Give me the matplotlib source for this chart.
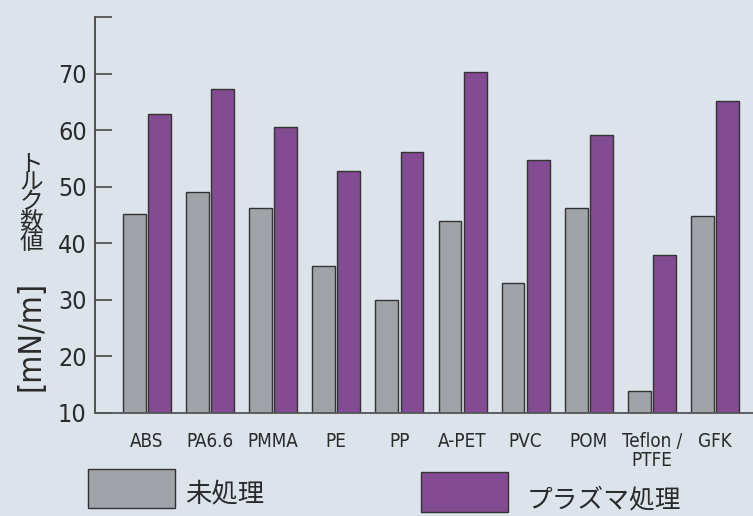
import matplotlib
matplotlib.use("Agg")
import matplotlib.pyplot as plt
import numpy as np
from matplotlib.patches import Rectangle
from matplotlib import font_manager

# データ
materials = ["ABS", "PA6.6", "PMMA", "PE", "PP", "A-PET", "PVC", "POM", "Teflon /\nPTFE", "GFK"]
untreated = [45.1, 49.0, 46.3, 35.9, 30.0, 44.0, 33.0, 46.2, 13.9, 44.9]
plasma = [62.8, 67.3, 60.5, 52.7, 56.1, 70.3, 54.7, 59.1, 38.0, 65.1]
yticks = [10, 20, 30, 40, 50, 60, 70, 80]
ytick_labels = ["10", "20", "30", "40", "50", "60", "70", ""]

bg = "#dce3ea"
gray = "#a0a3a7"
purple = "#834b91"
txt = "#2a2a2a"
jp = ["Noto Sans CJK JP", "DejaVu Sans"]

# 細めのフォント（DejaVu Sans Condensed があれば使う）
cond = [f.fname for f in font_manager.fontManager.ttflist
        if ("Condensed" in f.fname or f.stretch == "condensed")
        and "Bold" not in f.fname and "Oblique" not in f.fname and "Serif" not in f.fname]


def lat(size):
    if cond:
        return dict(fontproperties=font_manager.FontProperties(fname=cond[0], size=size))
    return dict(family="DejaVu Sans", fontsize=size)


fig = plt.figure(figsize=(7.53, 5.16), dpi=100)
fig.patch.set_facecolor(bg)
ax = fig.add_axes([95 / 753, 103 / 516, 1 - 95 / 753, 396 / 516])
ax.set_facecolor(bg)

x = np.arange(len(materials))
w = 0.36
ax.bar(x - 0.2, untreated, w, bottom=0, color=gray, edgecolor="#333333", linewidth=1.0)
ax.bar(x + 0.2, plasma, w, bottom=0, color=purple, edgecolor="#333333", linewidth=1.0)

ax.set_ylim(10, 80)
ax.set_xlim(-0.82, 9.6)
ax.set_yticks(yticks)
ax.set_yticklabels(ytick_labels, color=txt, **lat(18))
ax.tick_params(axis="y", direction="in", length=12, width=1.3, color="#555555", pad=6)
ax.set_xticks(x)
ax.set_xticklabels(materials, color=txt, linespacing=1.0, **lat(13.5))
ax.tick_params(axis="x", length=0, pad=14)

for s in ["top", "right"]:
    ax.spines[s].set_visible(False)
ax.spines["left"].set_color("#444444")
ax.spines["left"].set_linewidth(1.3)
ax.spines["bottom"].set_color("#555555")
ax.spines["bottom"].set_linewidth(1.3)

# 縦軸ラベル
fig.text(31 / 753, 1 - 203 / 516, "\n".join("トルク数値"), family=jp, fontsize=17,
         ha="center", va="center", linespacing=0.82, color=txt)
fig.text(31 / 753, 1 - 336 / 516, "[mN/m]", color=txt, rotation=90,
         ha="center", va="center", **lat(23))

# 凡例
fig.add_artist(Rectangle((88 / 753, 1 - 508 / 516), 87 / 753, 39 / 516, transform=fig.transFigure,
                         facecolor=gray, edgecolor="#333333", linewidth=1.0))
fig.text(185 / 753, 1 - 494 / 516, "未処理", family=jp, fontsize=19, ha="left", va="center",
         color=txt)
fig.add_artist(Rectangle((421 / 753, 1 - 512 / 516), 87 / 753, 40 / 516, transform=fig.transFigure,
                         facecolor=purple, edgecolor="#333333", linewidth=1.0))
fig.text(527 / 753, 1 - 500 / 516, "プラズマ処理", family=jp, fontsize=18.5, ha="left", va="center",
         color=txt)

fig.savefig("out.png", dpi=100, facecolor=bg)
